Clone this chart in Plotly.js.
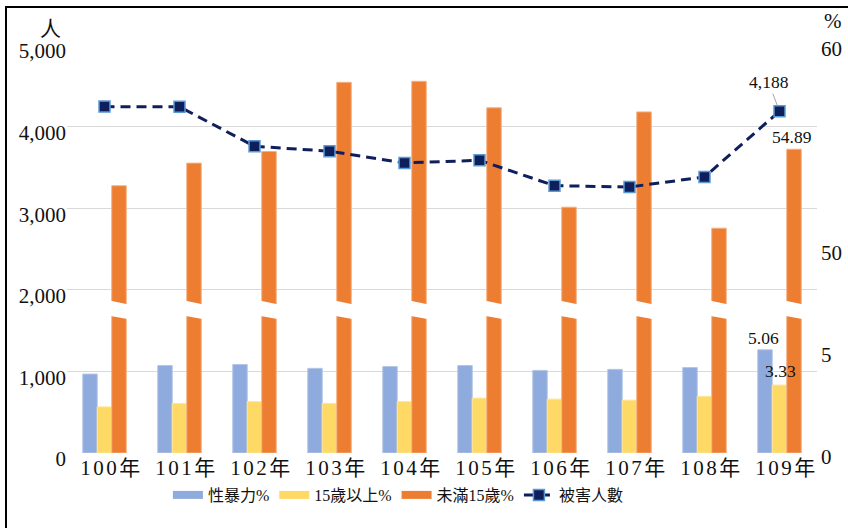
<!DOCTYPE html>
<html><head><meta charset="utf-8">
<script src="https://cdn.plot.ly/plotly-3.0.1.min.js"></script>
<style>
html,body{margin:0;padding:0;background:#fff;}
#chart{width:848px;height:528px;}
#frame{position:absolute;left:5px;top:6px;width:900px;height:600px;border-left:2.5px solid #000;border-top:2.5px solid #000;pointer-events:none;}
.xtick text{letter-spacing:2.5px !important;}
</style></head><body>
<div id="chart"></div><div id="frame"></div>
<script>
// ---- data ----
const years = ['100年','101年','102年','103年','104年','105年','106年','107年','108年','109年'];
const sexViolencePct = [3.87, 4.29, 4.34, 4.15, 4.24, 4.29, 4.05, 4.10, 4.19, 5.06];
const over15Pct = [2.26, 2.43, 2.52, 2.43, 2.52, 2.69, 2.64, 2.59, 2.78, 3.33];
const under15Pct = [53.10, 54.21, 54.78, 58.17, 58.22, 56.92, 52.05, 56.72, 51.02, 54.89];
const victims = [4245, 4243, 3759, 3698, 3555, 3587, 3276, 3260, 3383, 4188];
const seriesNames = ['性暴力%', '15歲以上%', '未滿15歲%', '被害人數'];
const leftTickVals = [0, 1000, 2000, 3000, 4000, 5000];
const rightTickVals = [0, 5, 10, 20];
const rightTickText = ['0', '5', '50', '60'];
const breakOffset = 40; // right axis is broken between 5 and 50 (50 drawn at 10)

// ---- style ----
const FONT = 'Liberation Serif, "Noto Sans CJK TC", serif';
const colors = ['#8faadc', '#ffd966', '#ed7d31'];
const edge = ['#b4c7e7', '#ffe699', '#f4b183'];
const navy = '#0f1f5c';
const bargap = 0.42;
const w = (1 - bargap) / 3;

const barData = [sexViolencePct, over15Pct, under15Pct.map(v => v - breakOffset)];
const traces = [];
barData.forEach((vals, k) => {
  traces.push({
    type: 'bar', x: years, y: vals, name: seriesNames[k], yaxis: 'y',
    marker: {color: colors[k], line: {color: edge[k], width: 1}},
    showlegend: false, hoverinfo: 'x+y'
  });
});
// legend stand-ins for the bar series (wide flat swatches)
barData.forEach((vals, k) => {
  traces.push({
    type: 'scatter', mode: 'lines', x: [null], y: [null], name: seriesNames[k], yaxis: 'y',
    line: {color: colors[k], width: 8}, showlegend: true, hoverinfo: 'skip'
  });
});
traces.push({
  type: 'scatter', mode: 'lines+markers', x: years, y: victims, name: seriesNames[3], yaxis: 'y2',
  line: {color: navy, width: 3, dash: '10px,6px'},
  marker: {symbol: 'square', size: 11, color: navy, line: {color: '#5b9bd5', width: 1.5}},
  showlegend: true
});

// break marks across the orange bars
const shapes = years.map((_, i) => {
  const x0 = i + w / 2 - 0.015, x1 = i + 1.5 * w + 0.015;
  return {
    type: 'path', xref: 'x', yref: 'y', layer: 'above',
    path: `M${x0},7.46 L${x1},7.29 L${x1},6.57 L${x0},6.72 Z`,
    fillcolor: '#ffffff', line: {width: 0}
  };
});

const last = years.length - 1;
const lblFont = {family: FONT, size: 17.5, color: '#111'};
const annotations = [
  {x: years[last], y: victims[last], xref: 'x', yref: 'y2', text: victims[last].toLocaleString('en-US'),
   showarrow: true, arrowhead: 0, arrowwidth: 1, arrowcolor: '#a6a6a6', ax: -11, ay: -29, standoff: 6, font: lblFont},
  {x: years[last], y: under15Pct[last] - breakOffset, xref: 'x', yref: 'y', text: under15Pct[last].toFixed(2),
   showarrow: false, yanchor: 'bottom', xshift: 12, yshift: 0, font: lblFont},
  {x: years[last], y: sexViolencePct[last], xref: 'x', yref: 'y', text: sexViolencePct[last].toFixed(2),
   showarrow: false, yanchor: 'bottom', xshift: -16, yshift: 0, font: lblFont},
  {x: years[last], y: over15Pct[last], xref: 'x', yref: 'y', text: over15Pct[last].toFixed(2),
   showarrow: false, yanchor: 'bottom', xshift: 1, yshift: 2, font: lblFont},
  {xref: 'paper', yref: 'paper', x: -0.022, y: 1.04, xanchor: 'center', yanchor: 'middle',
   text: '人', showarrow: false, font: {family: FONT, size: 21, color: '#111'}},
  {xref: 'paper', yref: 'paper', x: 1.0207, y: 1.058, xanchor: 'center', yanchor: 'middle',
   text: '%', showarrow: false, font: {family: FONT, size: 21, color: '#111'}}
];

const layout = {
  width: 848, height: 528,
  margin: {l: 67, r: 31, t: 45, b: 75},
  paper_bgcolor: '#fff', plot_bgcolor: '#fff',
  font: {family: FONT, color: '#111'},
  barmode: 'group', bargap: bargap, bargroupgap: 0,
  xaxis: {type: 'category', range: [-0.5, years.length - 0.5], automargin: false,
          showgrid: false, showline: false, ticks: '', zeroline: false,
          tickfont: {family: FONT, size: 21, color: '#111'}, ticklabelshift: 7, fixedrange: true},
  yaxis: {side: 'right', range: [0, 20], tickvals: rightTickVals, ticktext: rightTickText, automargin: false,
          showgrid: false, zeroline: false, showline: false, ticks: '', ticklabelstandoff: 3,
          tickfont: {family: FONT, size: 21, color: '#111'}, ticklabelshift: 4, fixedrange: true},
  yaxis2: {overlaying: 'y', side: 'left', range: [0, 5000], tickvals: leftTickVals, tickformat: ',d', automargin: false,
           showgrid: true, gridcolor: '#d9d9d9', gridwidth: 1, zeroline: false, showline: false, ticks: '',
           tickfont: {family: FONT, size: 21, color: '#111'}, ticklabelshift: 6, fixedrange: true},
  legend: {orientation: 'h', xref: 'container', yref: 'container', x: 0.198, xanchor: 'left',
           y: 0.0625, yanchor: 'middle', font: {family: FONT, size: 16, color: '#111'},
           bgcolor: 'rgba(0,0,0,0)', traceorder: 'normal', itemwidth: 30},
  shapes: shapes,
  annotations: annotations,
  showlegend: true
};

Plotly.newPlot('chart', traces, layout, {displayModeBar: false, staticPlot: true});
</script>
</body></html>
